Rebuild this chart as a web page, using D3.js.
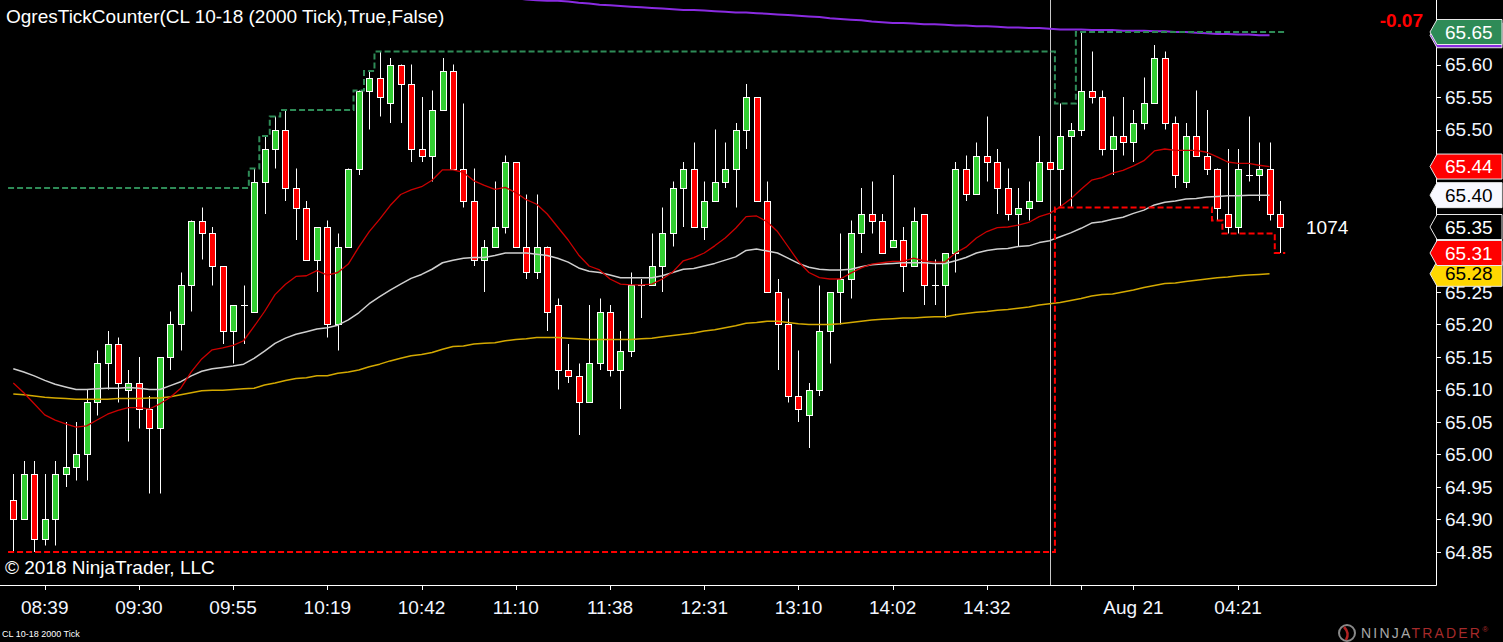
<!DOCTYPE html>
<html><head><meta charset="utf-8">
<script src="https://cdn.jsdelivr.net/npm/d3@7"></script>
<style>
html,body{margin:0;padding:0;background:#000;overflow:hidden}
svg{display:block}
text{font-family:"Liberation Sans",Arial,sans-serif}
</style></head><body>
<svg id="c" width="1503" height="642"></svg>
<script>
// ---------- DATA ----------
const opens  = [64.93,64.90,64.97,64.87,64.90,64.97,64.98,65.00,65.08,65.14,65.17,65.10,65.11,65.07,65.04,65.15,65.20,65.26,65.36,65.34,65.29,65.19,65.23,65.22,65.42,65.47,65.50,65.41,65.38,65.30,65.35,65.20,65.32,65.44,65.56,65.58,65.54,65.60,65.57,65.47,65.46,65.53,65.59,65.44,65.39,65.30,65.32,65.35,65.45,65.32,65.28,65.32,65.23,65.13,65.12,65.08,65.14,65.22,65.13,65.16,65.26,65.26,65.29,65.34,65.41,65.44,65.35,65.39,65.42,65.44,65.50,65.55,65.39,65.25,65.20,65.09,65.06,65.10,65.19,65.25,65.27,65.34,65.37,65.36,65.32,65.33,65.29,65.37,65.26,65.26,65.31,65.44,65.40,65.46,65.45,65.41,65.37,65.38,65.39,65.45,65.44,65.49,65.50,65.56,65.55,65.47,65.49,65.48,65.51,65.54,65.61,65.51,65.42,65.49,65.46,65.44,65.37,65.35,65.43,65.43,65.44,65.37];
const highs  = [64.97,64.99,64.99,64.97,64.99,65.05,65.05,65.10,65.16,65.19,65.18,65.13,65.15,65.09,65.15,65.22,65.28,65.36,65.38,65.35,65.29,65.23,65.26,65.44,65.49,65.52,65.53,65.44,65.39,65.35,65.36,65.34,65.44,65.56,65.59,65.62,65.61,65.60,65.60,65.55,65.56,65.61,65.60,65.54,65.44,65.33,65.42,65.46,65.45,65.40,65.40,65.32,65.24,65.17,65.14,65.23,65.24,65.23,65.19,65.28,65.27,65.34,65.38,65.42,65.45,65.48,65.42,65.50,65.48,65.51,65.57,65.55,65.42,65.27,65.24,65.16,65.11,65.26,65.25,65.34,65.36,65.41,65.42,65.37,65.43,65.35,65.38,65.37,65.30,65.31,65.45,65.46,65.48,65.52,65.47,65.44,65.41,65.42,65.49,65.45,65.54,65.51,65.65,65.62,65.56,65.52,65.55,65.53,65.58,65.63,65.62,65.52,65.51,65.56,65.53,65.44,65.47,65.47,65.52,65.48,65.48,65.39];
const lows   = [64.85,64.90,64.85,64.86,64.86,64.95,64.96,64.96,65.06,65.10,65.08,65.02,65.04,64.94,64.94,65.13,65.16,65.22,65.30,65.26,65.17,65.14,65.17,65.22,65.37,65.44,65.39,65.33,65.30,65.25,65.18,65.16,65.32,65.43,65.50,65.52,65.51,65.51,65.45,65.45,65.42,65.53,65.44,65.38,65.29,65.25,65.32,65.34,65.32,65.27,65.27,65.19,65.10,65.11,65.03,65.08,65.13,65.12,65.07,65.15,65.21,65.26,65.25,65.32,65.35,65.35,65.33,65.39,65.41,65.38,65.47,65.39,65.25,65.13,65.08,65.05,65.01,65.09,65.14,65.20,65.24,65.31,65.34,65.31,65.32,65.25,65.29,65.23,65.23,65.21,65.28,65.39,65.40,65.42,65.37,65.36,65.32,65.36,65.39,65.44,65.38,65.38,65.49,65.54,65.46,65.43,65.46,65.45,65.50,65.54,65.50,65.41,65.41,65.46,65.43,65.36,65.34,65.34,65.42,65.39,65.36,65.31];
const closes = [64.90,64.97,64.87,64.90,64.97,64.98,65.00,65.08,65.14,65.17,65.11,65.11,65.07,65.04,65.15,65.20,65.26,65.36,65.34,65.29,65.19,65.23,65.23,65.42,65.47,65.50,65.41,65.38,65.30,65.35,65.20,65.32,65.44,65.56,65.58,65.55,65.60,65.57,65.47,65.46,65.53,65.59,65.44,65.39,65.30,65.32,65.35,65.45,65.32,65.28,65.32,65.22,65.13,65.12,65.08,65.14,65.22,65.13,65.16,65.26,65.26,65.29,65.34,65.41,65.44,65.35,65.39,65.42,65.44,65.50,65.55,65.39,65.25,65.20,65.09,65.07,65.10,65.19,65.25,65.27,65.34,65.37,65.36,65.31,65.33,65.29,65.36,65.26,65.26,65.31,65.44,65.40,65.46,65.45,65.41,65.37,65.38,65.39,65.45,65.44,65.49,65.50,65.56,65.55,65.47,65.49,65.48,65.51,65.54,65.61,65.51,65.43,65.49,65.46,65.44,65.38,65.35,65.44,65.43,65.44,65.37,65.35];

const redMA = [65.110,65.095,65.078,65.061,65.053,65.047,65.042,65.044,65.053,65.062,
 65.068,65.072,65.072,65.070,65.078,65.088,65.102,65.127,65.147,65.161,
 65.164,65.168,65.175,65.197,65.220,65.246,65.262,65.274,65.275,65.283,
 65.276,65.280,65.293,65.319,65.343,65.362,65.383,65.400,65.407,65.412,
 65.422,65.438,65.438,65.434,65.421,65.414,65.408,65.411,65.403,65.392,
 65.385,65.370,65.350,65.330,65.307,65.290,65.284,65.270,65.262,65.261,
 65.261,65.262,65.270,65.281,65.298,65.303,65.310,65.321,65.333,65.348,
 65.366,65.367,65.358,65.343,65.320,65.297,65.280,65.272,65.270,65.270,
 65.279,65.287,65.293,65.295,65.297,65.297,65.302,65.298,65.296,65.296,
 65.310,65.319,65.333,65.343,65.349,65.350,65.353,65.357,65.366,65.371,
 65.381,65.393,65.408,65.422,65.426,65.433,65.437,65.444,65.452,65.467,
 65.470,65.468,65.468,65.468,65.465,65.458,65.450,65.448,65.448,65.445,65.443];
const whiteMA = [65.132,65.127,65.121,65.114,65.108,65.104,65.100,65.100,65.101,65.102,
 65.102,65.103,65.102,65.100,65.100,65.106,65.112,65.121,65.128,65.132,
 65.134,65.136,65.139,65.148,65.159,65.171,65.179,65.185,65.189,65.193,
 65.195,65.199,65.207,65.218,65.232,65.243,65.253,65.262,65.271,65.277,
 65.285,65.295,65.299,65.302,65.303,65.303,65.306,65.310,65.310,65.310,
 65.308,65.306,65.302,65.296,65.287,65.282,65.280,65.276,65.272,65.272,
 65.272,65.272,65.275,65.280,65.285,65.286,65.290,65.294,65.299,65.304,
 65.314,65.316,65.313,65.310,65.302,65.294,65.288,65.285,65.284,65.284,
 65.285,65.289,65.292,65.293,65.294,65.295,65.295,65.295,65.294,65.294,
 65.298,65.303,65.310,65.314,65.316,65.317,65.320,65.321,65.326,65.329,
 65.335,65.341,65.348,65.356,65.358,65.362,65.365,65.371,65.376,65.384,
 65.388,65.390,65.393,65.394,65.396,65.397,65.398,65.398,65.399,65.399,65.399];
const yellowMA = [65.093,65.092,65.090,65.088,65.087,65.086,65.085,65.085,65.085,65.085,
 65.086,65.086,65.086,65.087,65.087,65.089,65.092,65.095,65.098,65.099,
 65.099,65.100,65.101,65.102,65.107,65.110,65.114,65.117,65.118,65.121,
 65.121,65.125,65.127,65.130,65.135,65.139,65.144,65.148,65.152,65.154,
 65.157,65.162,65.166,65.167,65.170,65.171,65.172,65.175,65.177,65.178,
 65.180,65.180,65.180,65.179,65.178,65.177,65.177,65.177,65.177,65.177,
 65.178,65.179,65.181,65.183,65.185,65.187,65.190,65.192,65.195,65.198,
 65.202,65.203,65.205,65.205,65.203,65.201,65.200,65.200,65.200,65.201,
 65.203,65.205,65.207,65.208,65.209,65.210,65.210,65.211,65.212,65.212,
 65.215,65.217,65.219,65.220,65.222,65.223,65.225,65.227,65.230,65.232,
 65.234,65.237,65.240,65.244,65.246,65.247,65.250,65.253,65.257,65.260,
 65.263,65.264,65.266,65.268,65.270,65.272,65.273,65.275,65.276,65.277,65.278];
const purpleStart = 46;
const purpleMA = [65.704,65.703,65.702,65.700,65.699,65.698,65.698,65.697,65.695,65.694,
 65.692,65.691,65.690,65.689,65.688,65.687,65.686,65.685,65.684,65.684,
 65.683,65.682,65.681,65.680,65.680,65.679,65.678,65.677,65.676,65.675,
 65.674,65.673,65.671,65.670,65.669,65.668,65.666,65.665,65.664,65.664,
 65.663,65.662,65.662,65.661,65.660,65.660,65.659,65.659,65.658,65.657,
 65.657,65.656,65.656,65.655,65.654,65.654,65.654,65.653,65.653,65.653,
 65.652,65.652,65.652,65.651,65.651,65.650,65.650,65.649,65.648,65.647,
 65.647,65.646,65.646,65.645,65.645];

const sessionStarts    = [0, 100];
const sessionPriorHigh = [65.41, null];
const sessionPriorLow  = [64.85, null];
const sessionBreakIdx  = 99;

const xTickIdx    = [3,12,21,30,39,48,57,66,75,84,93,102,107,117];
const xTickLabels = ["08:39","09:30","09:55","10:19","10:42","11:10","11:38","12:31","13:10","14:02","14:32","","Aug 21","04:21"];
const yTicks = [64.85,64.90,64.95,65.00,65.05,65.10,65.15,65.20,65.25,65.30,65.35,65.40,65.45,65.50,65.55,65.60,65.65];

const titleText   = "OgresTickCounter(CL 10-18 (2000 Tick),True,False)";
const changeText  = "-0.07";
const tickCountText = "1074";
const copyrightText = "© 2018 NinjaTrader, LLC";
const instrumentText = "CL 10-18 2000 Tick";

// ---------- CHART ----------
const svg = d3.select("#c");
const n = closes.length;
const plotR = 1436, plotB = 585;
const x = d3.scaleLinear().domain([0, n-1]).range([13.3, 1280]);
const y = d3.scaleLinear().domain([64.85, 65.65]).range([552, 32]);
const half = (x(1)-x(0))/2;

svg.append("rect").attr("width",1503).attr("height",642).attr("fill","#000");
svg.append("defs").append("clipPath").attr("id","plot")
  .append("rect").attr("x",0).attr("y",0).attr("width",plotR).attr("height",plotB);

const plot = svg.append("g").attr("clip-path","url(#plot)");

// session break line
plot.append("line")
  .attr("x1",Math.round(x(sessionBreakIdx))+0.5).attr("x2",Math.round(x(sessionBreakIdx))+0.5)
  .attr("y1",0).attr("y2",plotB).attr("stroke","#c8c8c8").attr("stroke-width",1);

// candles
const cg = plot.append("g");
for (let i=0;i<n;i++){
  const cx = Math.round(x(i))+0.5;
  const o=opens[i], c=closes[i];
  cg.append("line").attr("x1",cx).attr("x2",cx)
    .attr("y1",y(highs[i])).attr("y2",y(lows[i]))
    .attr("stroke","#fff").attr("stroke-width",1);
  if (Math.abs(o-c) < 0.001){
    cg.append("line").attr("x1",cx-3.5).attr("x2",cx+3.5)
      .attr("y1",Math.round(y(o))+0.5).attr("y2",Math.round(y(o))+0.5)
      .attr("stroke","#fff").attr("stroke-width",1);
  } else {
    const top = Math.round(y(Math.max(o,c)))+0.5, bot = Math.round(y(Math.min(o,c)))+0.5;
    cg.append("rect").attr("x",cx-3).attr("y",top).attr("width",6).attr("height",bot-top)
      .attr("fill", c>o ? "#32cd32" : "#ff0000")
      .attr("stroke","#fff").attr("stroke-width",1);
  }
}

// moving averages
const maLine = d3.line().x(d=>x(d[0])).y(d=>y(d[1]));
function drawMA(arr, start, color, w){
  plot.append("path").datum(arr.map((v,k)=>[k+start,v]))
    .attr("d",maLine).attr("fill","none").attr("stroke",color).attr("stroke-width",w)
    .attr("stroke-linejoin","round");
}
drawMA(yellowMA,0,"#d4a900",1.5);
drawMA(whiteMA,0,"#cfcfcf",1.5);
drawMA(redMA,0,"#cc0000",1.3);
drawMA(purpleMA,purpleStart,"#8a2be2",2);

// session running high/low (dashed steps)
function running(arr, priors, fn){
  const out=[]; let cur=null;
  for (let i=0;i<arr.length;i++){
    const s = sessionStarts.indexOf(i);
    if (s>=0) cur = priors[s];
    cur = (cur==null) ? arr[i] : fn(cur, arr[i]);
    out.push(cur);
  }
  return out;
}
const runHigh = running(highs, sessionPriorHigh, Math.max);
const runLow  = running(lows, sessionPriorLow, Math.min);
const stepLine = d3.line().x(d=>d[0]).y(d=>d[1]).curve(d3.curveStepAfter);
function stepPts(vals){
  const p = vals.map((v,i)=>[x(i)-half, y(v)]);
  p.push([x(n-1)+half, y(vals[n-1])]);
  return p;
}
plot.append("path").datum(stepPts(runHigh)).attr("d",stepLine)
  .attr("fill","none").attr("stroke","#2e8b57").attr("stroke-width",2).attr("stroke-dasharray","6,3");
plot.append("path").datum(stepPts(runLow)).attr("d",stepLine)
  .attr("fill","none").attr("stroke","#ff0000").attr("stroke-width",2).attr("stroke-dasharray","6,3");

// axes lines
svg.append("line").attr("x1",plotR+0.5).attr("x2",plotR+0.5).attr("y1",0).attr("y2",plotB+0.5)
  .attr("stroke","#fff");
svg.append("line").attr("x1",0).attr("x2",plotR+0.5).attr("y1",plotB+0.5).attr("y2",plotB+0.5)
  .attr("stroke","#fff");

// price markers (computed first so covered axis labels can be skipped)
const last = n-1;
const markers = [
  {v: purpleMA[purpleMA.length-1], fill:"#8a2be2", tc:"#fff", label:""},
  {v: runHigh[last], fill:"#2e8b57", tc:"#fff", label: runHigh[last].toFixed(2)},
  {v: yellowMA[yellowMA.length-1], fill:"#ffd700", tc:"#000", label: yellowMA[yellowMA.length-1].toFixed(2)},
  {v: runLow[last], fill:"#ff0000", tc:"#fff", label: runLow[last].toFixed(2)},
  {v: closes[last], fill:"#000", tc:"#fff", label: closes[last].toFixed(2)},
  {v: whiteMA[whiteMA.length-1], fill:"#f8f8ff", tc:"#000", label: whiteMA[whiteMA.length-1].toFixed(2)},
  {v: redMA[redMA.length-1], fill:"#ff0000", tc:"#fff", label: redMA[redMA.length-1].toFixed(2)}
];

// y axis ticks
const ya = svg.append("g");
yTicks.forEach(v=>{
  const yy = Math.round(y(v))+0.5;
  ya.append("line").attr("x1",plotR+0.5).attr("x2",plotR+5).attr("y1",yy).attr("y2",yy).attr("stroke","#fff");
  const covered = markers.some(m => Math.abs(y(m.v) - y(v)) < 14);
  if (!covered) ya.append("text").attr("x",1445).attr("y",y(v)).attr("dy","0.35em")
    .attr("font-size",19).attr("fill","#f2f6ff").text(v.toFixed(2));
});

// x axis ticks
const xa = svg.append("g");
xTickIdx.forEach((idx,k)=>{
  const xx = Math.round(x(idx))+0.5;
  xa.append("line").attr("x1",xx).attr("x2",xx).attr("y1",plotB+0.5).attr("y2",plotB+5).attr("stroke","#fff");
  if (xTickLabels[k]) xa.append("text").attr("x",x(idx)).attr("y",614).attr("text-anchor","middle")
    .attr("font-size",19).attr("fill","#f2f6ff").text(xTickLabels[k]);
});

const mg = svg.append("g");
markers.forEach(m=>{
  const yc = y(m.v), h = 12.5;
  mg.append("path").attr("d",`M1430,${yc} L1437,${yc-h} L1502,${yc-h} L1502,${yc+h} L1437,${yc+h} Z`)
    .attr("fill",m.fill).attr("stroke","#e8e8e8").attr("stroke-width",1);
  if (m.label) mg.append("text").attr("x",1445).attr("y",yc).attr("dy","0.35em")
    .attr("font-size",19).attr("fill",m.tc).text(m.label);
});

// texts
svg.append("text").attr("x",6).attr("y",23).attr("font-size",19).attr("fill","#fff").text(titleText);
svg.append("text").attr("x",1423).attr("y",27).attr("text-anchor","end").attr("font-size",19)
  .attr("font-weight","bold").attr("fill","#ff0000").text(changeText);
svg.append("text").attr("x",1306).attr("y",y(closes[last])).attr("dy","0.35em").attr("font-size",19)
  .attr("fill","#fff").text(tickCountText);
svg.append("text").attr("x",5).attr("y",574).attr("font-size",19).attr("fill","#fff").text(copyrightText);
svg.append("text").attr("x",2).attr("y",637).attr("font-size",9).attr("fill","#fff").text(instrumentText);

// logo
const lg = svg.append("g");
lg.append("circle").attr("cx",1347).attr("cy",633).attr("r",8).attr("fill","none").attr("stroke","#888").attr("stroke-width",2);
lg.append("path").attr("d","M1344,627 Q1350,633 1346,640").attr("fill","none").attr("stroke","#b22222").attr("stroke-width",2.5);
const lt = lg.append("text").attr("x",1361).attr("y",638).attr("font-size",14).attr("letter-spacing",2.2);
lt.append("tspan").attr("fill","#a8a8a8").text("NINJA");
lt.append("tspan").attr("fill","#a52a2a").text("TRADER");
lt.append("tspan").attr("fill","#a52a2a").attr("font-size",8).attr("dy",-6).text("®");
</script>
</body></html>
